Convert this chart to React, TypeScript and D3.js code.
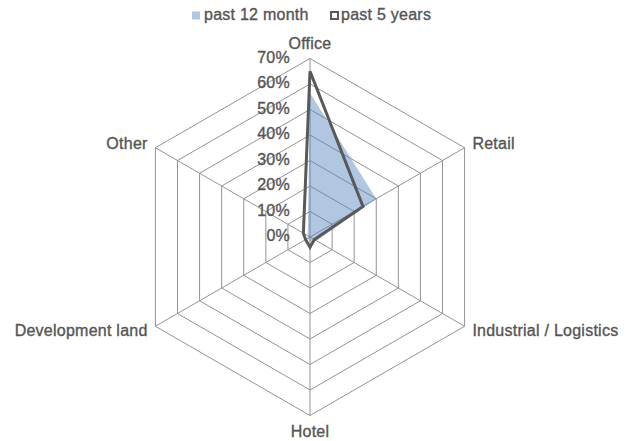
import React from "react";
import * as d3 from "d3";

const categories = ["Office", "Retail", "Industrial / Logistics", "Hotel", "Development land", "Other"];
const past12Month = [0.565, 0.30, 0.03, 0.02, 0.01, 0.01];
const past5Years = [0.65, 0.24, 0.02, 0.04, 0.02, 0.03];
const tickValues = [0, 0.1, 0.2, 0.3, 0.4, 0.5, 0.6, 0.7];
const seriesNames = ["past 12 month", "past 5 years"];

const W = 635;
const H = 441;
const cx = 310;
const cy = 237;
const R = 178.5;
const FONT = "'Liberation Sans', Arial, Helvetica, sans-serif";
const TEXT = "#555555";

export default function App() {
  const r = d3.scaleLinear().domain([0, 0.7]).range([0, R]);
  const n = categories.length;
  const ang = (i: number) => (i * 2 * Math.PI) / n;
  const pt = (i: number, v: number): [number, number] => [
    cx + r(v) * Math.sin(ang(i)),
    cy - r(v) * Math.cos(ang(i)),
  ];
  const closed = d3.line<[number, number]>().curve(d3.curveLinearClosed);
  const ring = (v: number) => closed(categories.map((_, i) => pt(i, v))) || "";
  const poly = (vals: number[]) => closed(vals.map((v, i) => pt(i, v))) || "";
  const fmt = d3.format(".0%");
  const textProps = {
    fontSize: 16,
    fill: TEXT,
    stroke: TEXT,
    strokeWidth: 0.35,
    letterSpacing: 0.25,
  };

  return (
    <svg width={W} height={H} style={{ position: "absolute", left: 0, top: 0 }} fontFamily={FONT}>
      <rect width={W} height={H} fill="#fff" />
      {tickValues.slice(1).map((t) => (
        <path key={t} d={ring(t)} fill="none" stroke="#939393" strokeWidth={1} />
      ))}
      {categories.map((c, i) => {
        const [x, y] = pt(i, 0.7);
        return <line key={c} x1={cx} y1={cy} x2={x} y2={y} stroke="#939393" strokeWidth={1} />;
      })}
      <path d={poly(past12Month)} fill="#4f81bd" fillOpacity={0.45} stroke="none" />
      <path d={poly(past5Years)} fill="none" stroke="#595959" strokeWidth={3} strokeLinejoin="miter" />
      {tickValues.map((t) => (
        <text key={t} x={290} y={cy - r(t)} textAnchor="end" dominantBaseline="middle" {...textProps}>
          {fmt(t)}
        </text>
      ))}
      {categories.map((c, i) => {
        const a = ang(i);
        const s = Math.sin(a);
        const co = Math.cos(a);
        const off = 9;
        const x = cx + (R + off) * s;
        const y = cy - (R + off) * co;
        let anchor: "start" | "end" | "middle" = "middle";
        if (s > 0.1) anchor = "start";
        else if (s < -0.1) anchor = "end";
        let dy = "0.35em";
        if (Math.abs(s) < 0.1) dy = co > 0 ? "-0.05em" : "0.75em";
        return (
          <text key={c} x={x} y={y} dy={dy} textAnchor={anchor} {...textProps}>
            {c}
          </text>
        );
      })}
      <g>
        <rect x={192} y={11.5} width={8} height={8} fill="#4f81bd" fillOpacity={0.45} />
        <text x={204} y={19.5} {...textProps}>{seriesNames[0]}</text>
        <rect x={331} y={12} width={7} height={7} fill="#fff" stroke="#595959" strokeWidth={2} />
        <text x={341} y={19.5} {...textProps}>{seriesNames[1]}</text>
      </g>
    </svg>
  );
}
